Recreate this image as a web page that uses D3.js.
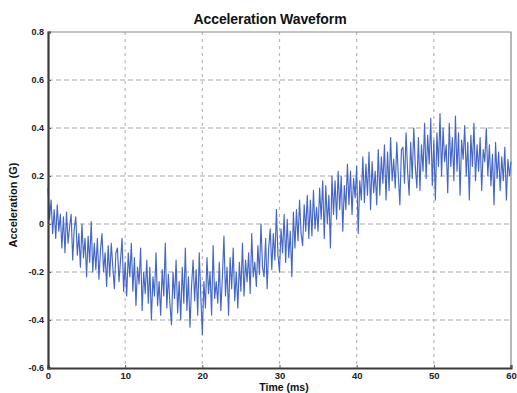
<!DOCTYPE html>
<html><head><meta charset="utf-8">
<script src="https://cdn.jsdelivr.net/npm/d3@7"></script>
<style>body{margin:0;background:#fff}svg{display:block}</style>
</head><body>
<script>
// Sample interval (ms) of the recorded waveform
const sampleInterval = 0.2;
// Acceleration samples (G)
const acceleration = [
 0.15,0.02,0.10,-0.04,0.06,
 -0.06,0.08,-0.03,0.04,-0.10,
 0.03,-0.12,0.05,-0.08,-0.01,
 0.04,-0.15,-0.02,0.03,-0.13,
 -0.04,-0.18,0.00,-0.14,-0.06,
 -0.22,-0.05,-0.16,0.01,-0.20,
 -0.08,-0.19,-0.06,-0.23,-0.11,
 -0.04,-0.20,-0.12,-0.26,-0.09,
 -0.22,-0.08,-0.18,-0.27,-0.12,
 -0.10,-0.24,-0.15,-0.06,-0.28,
 -0.16,-0.30,-0.12,-0.22,-0.08,
 -0.28,-0.14,-0.34,-0.18,-0.25,
 -0.10,-0.36,-0.20,-0.29,-0.15,
 -0.33,-0.18,-0.40,-0.22,-0.30,
 -0.12,-0.34,-0.24,-0.38,-0.19,
 -0.30,-0.08,-0.35,-0.21,-0.33,
 -0.42,-0.20,-0.31,-0.15,-0.37,
 -0.24,-0.40,-0.18,-0.33,-0.10,
 -0.36,-0.22,-0.43,-0.26,-0.15,
 -0.32,-0.19,-0.38,-0.12,-0.30,
 -0.46,-0.24,-0.35,-0.14,-0.29,
 -0.20,-0.38,-0.09,-0.31,-0.24,
 -0.33,-0.16,-0.36,-0.22,-0.05,
 -0.30,-0.18,-0.38,-0.14,-0.27,
 -0.10,-0.32,-0.20,-0.35,-0.16,
 -0.28,-0.08,-0.30,-0.15,-0.24,
 -0.12,-0.29,-0.04,-0.22,-0.16,
 -0.26,-0.09,-0.21,0.00,-0.18,
 -0.22,-0.06,-0.27,-0.10,-0.02,
 -0.19,-0.04,-0.15,0.06,-0.13,
 -0.20,-0.02,-0.12,0.04,-0.16,
 0.02,-0.14,-0.03,-0.22,0.05,
 -0.10,0.06,-0.07,0.10,-0.04,
 -0.09,0.08,-0.03,0.12,-0.06,
 0.10,-0.05,0.14,-0.02,0.07,
 -0.03,0.15,0.02,0.18,-0.06,
 0.16,0.00,0.12,-0.10,0.20,
 0.04,0.18,0.02,0.22,0.06,
 0.20,-0.03,0.16,0.06,0.25,
 0.08,0.22,0.04,0.19,0.11,
 0.24,-0.04,0.18,0.10,0.28,
 0.09,0.25,0.12,0.30,0.06,
 0.26,0.13,0.22,0.08,0.31,
 0.12,0.28,0.17,0.33,0.10,
 0.30,0.14,0.36,0.18,0.27,
 0.15,0.34,0.20,0.08,0.31,
 0.32,0.17,0.38,0.22,0.12,
 0.34,0.19,0.40,0.24,0.15,
 0.36,0.14,0.33,0.22,0.42,
 0.19,0.37,0.25,0.44,0.16,
 0.35,0.10,0.38,0.24,0.46,
 0.20,0.40,0.26,0.33,0.13,
 0.42,0.24,0.36,0.18,0.45,
 0.22,0.38,0.12,0.35,0.27,
 0.41,0.20,0.34,0.10,0.37,
 0.24,0.42,0.18,0.33,0.22,
 0.36,0.14,0.31,0.26,0.40,
 0.20,0.33,0.16,0.29,0.08,
 0.34,0.19,0.30,0.14,0.28,
 0.18,0.32,0.10,0.27,0.20,
 0.26
];
const xTicks = [0,10,20,30,40,50,60];
const yTicks = [-0.6,-0.4,-0.2,0,0.2,0.4,0.6,0.8];
const yTickLabels = ["-0.6","-0.4","-0.2","0","0.2","0.4","0.6","0.8"];
const titleText = "Acceleration Waveform";
const xLabel = "Time (ms)";
const yLabel = "Acceleration (G)";

const W = 517, H = 393;
const m = {left:48, right:6, top:32, bottom:25};
const svg = d3.select("body").append("svg").attr("width",W).attr("height",H);
const x = d3.scaleLinear().domain([0,60]).range([m.left, W-m.right]);
const y = d3.scaleLinear().domain([-0.6,0.8]).range([H-m.bottom, m.top]);

// grid
svg.append("g").selectAll("line.h").data(yTicks.filter(v=>v>-0.6 && v<0.8)).join("line")
  .attr("x1",x(0)).attr("x2",x(60)).attr("y1",d=>y(d)).attr("y2",d=>y(d))
  .attr("stroke","#a8a8a8").attr("stroke-width",1.2).attr("stroke-dasharray","5,3");
svg.append("g").selectAll("line.v").data(xTicks.filter(v=>v>0 && v<60)).join("line")
  .attr("x1",d=>x(d)).attr("x2",d=>x(d)).attr("y1",y(0.8)).attr("y2",y(-0.6))
  .attr("stroke","#b8b8b8").attr("stroke-width",1.2).attr("stroke-dasharray","3,4");

// border top/right
svg.append("path").attr("d",`M${x(0)},${y(0.8)}H${x(60)}V${y(-0.6)}`)
  .attr("fill","none").attr("stroke","#8a8a8a").attr("stroke-width",1.2);

// data line
const line = d3.line().x((d,i)=>x(i*sampleInterval)).y(d=>y(d));
svg.append("path").datum(acceleration).attr("d",line)
  .attr("fill","none").attr("stroke","#4466c6").attr("stroke-width",1.15)
  .attr("stroke-linejoin","round");

// axes
const xAxis = d3.axisBottom(x).tickValues(xTicks).tickSize(-3).tickPadding(4).tickFormat(d3.format("d"));
const gx = svg.append("g").attr("transform",`translate(0,${y(-0.6)})`).call(xAxis);
const yAxis = d3.axisLeft(y).tickValues(yTicks).tickSize(-3).tickPadding(4)
  .tickFormat((d,i)=>yTickLabels[i]);
const gy = svg.append("g").attr("transform",`translate(${x(0)},0)`).call(yAxis);
[gx,gy].forEach(g=>{
  g.select(".domain").attr("stroke","#3a3a3a").attr("stroke-width",2.2);
  g.selectAll(".tick line").attr("stroke","#555");
  g.selectAll("text").attr("font-family","Liberation Sans, Arial, sans-serif")
    .attr("font-weight","bold").attr("font-size",9).attr("fill","#222");
});
gx.selectAll("text").attr("font-size",9.5);

svg.append("text").attr("x",270).attr("y",24).attr("text-anchor","middle")
  .attr("font-family","Liberation Sans, Arial, sans-serif").attr("font-weight","bold")
  .attr("font-size",14).attr("fill","#111").attr("letter-spacing","-0.1").text(titleText);
svg.append("text").attr("x",284).attr("y",391).attr("text-anchor","middle")
  .attr("font-family","Liberation Sans, Arial, sans-serif").attr("font-weight","bold")
  .attr("font-size",10.5).attr("fill","#111").text(xLabel);
svg.append("text").attr("transform","translate(17,205) rotate(-90)").attr("text-anchor","middle")
  .attr("font-family","Liberation Sans, Arial, sans-serif").attr("font-weight","bold")
  .attr("font-size",11).attr("fill","#111").text(yLabel);
</script>
</body></html>
